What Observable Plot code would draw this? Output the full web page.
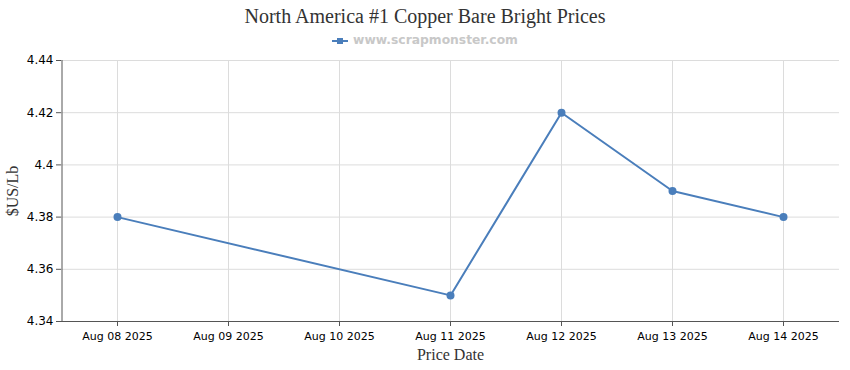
<!DOCTYPE html>
<html>
<head>
<meta charset="utf-8">
<script src="https://cdn.jsdelivr.net/npm/d3@7"></script>
<script src="https://cdn.jsdelivr.net/npm/@observablehq/plot@0.6"></script>
<style>
  body { margin: 0; background: #fff; width: 850px; }
  #title { height: 30px; line-height: 32px; text-align: center; font-family: "Liberation Serif", serif; font-size: 20px; color: #333; }
  #legend { height: 20px; line-height: 20px; text-align: center; font-family: "DejaVu Sans", sans-serif; font-size: 12.3px; font-weight: bold; color: #c8c8c8; }
  #legend svg { vertical-align: middle; margin-right: 5px; }
  g[aria-label="x-axis label"] text, g[aria-label="y-axis label"] text { font-family: "Liberation Serif", serif; font-size: 16px; fill: #333; }
  g[aria-label="x-axis tick label"] text { font-size: 11px; }
</style>
</head>
<body>
<div id="title">North America #1 Copper Bare Bright Prices</div>
<div id="legend"><svg width="16" height="10"><line x1="0" y1="5" x2="16" y2="5" stroke="#4a7ebb" stroke-width="2"/><rect x="5" y="2" width="6" height="6" fill="#4a7ebb"/></svg>www.scrapmonster.com</div>
<div id="chart"></div>
<script>
const dates = ["Aug 08 2025", "Aug 09 2025", "Aug 10 2025", "Aug 11 2025", "Aug 12 2025", "Aug 13 2025", "Aug 14 2025"];
const priceDates = ["Aug 08 2025", "Aug 11 2025", "Aug 12 2025", "Aug 13 2025", "Aug 14 2025"];
const prices = [4.38, 4.35, 4.42, 4.39, 4.38];
const yTicks = [4.34, 4.36, 4.38, 4.4, 4.42, 4.44];

const data = priceDates.map((d, i) => ({date: d, price: prices[i]}));
const blue = "#4a7ebb";

const chart = Plot.plot({
  width: 850,
  height: 320,
  marginTop: 10,
  marginBottom: 49,
  marginLeft: 61,
  marginRight: 11,
  style: {fontFamily: "DejaVu Sans, sans-serif", fontSize: "12px", color: "#000", background: "#fff"},
  x: {type: "point", domain: dates, padding: 0.5},
  y: {domain: [4.34, 4.44]},
  marks: [
    Plot.gridX(dates, {stroke: "#dcdcdc", strokeOpacity: 1}),
    Plot.gridY(yTicks, {stroke: "#dcdcdc", strokeOpacity: 1}),
    Plot.axisX(dates, {tickSize: 5, tickPadding: 6, stroke: "#555", label: "Price Date", labelAnchor: "center", labelArrow: "none", labelOffset: 38}),
    Plot.axisY(yTicks, {tickSize: 5, tickPadding: 3, stroke: "#555", tickFormat: d => String(+d.toFixed(2)), label: "$US/Lb", labelAnchor: "center", labelArrow: "none", labelOffset: 55}),
    Plot.ruleY([4.34], {stroke: "#555"}),
    Plot.ruleX([dates[0]], {stroke: "#555", dx: -55.5}),
    Plot.line(data, {x: "date", y: "price", stroke: blue, strokeWidth: 2}),
    Plot.dot(data, {x: "date", y: "price", fill: blue, r: 4})
  ]
});
document.getElementById("chart").appendChild(chart);
</script>
</body>
</html>
